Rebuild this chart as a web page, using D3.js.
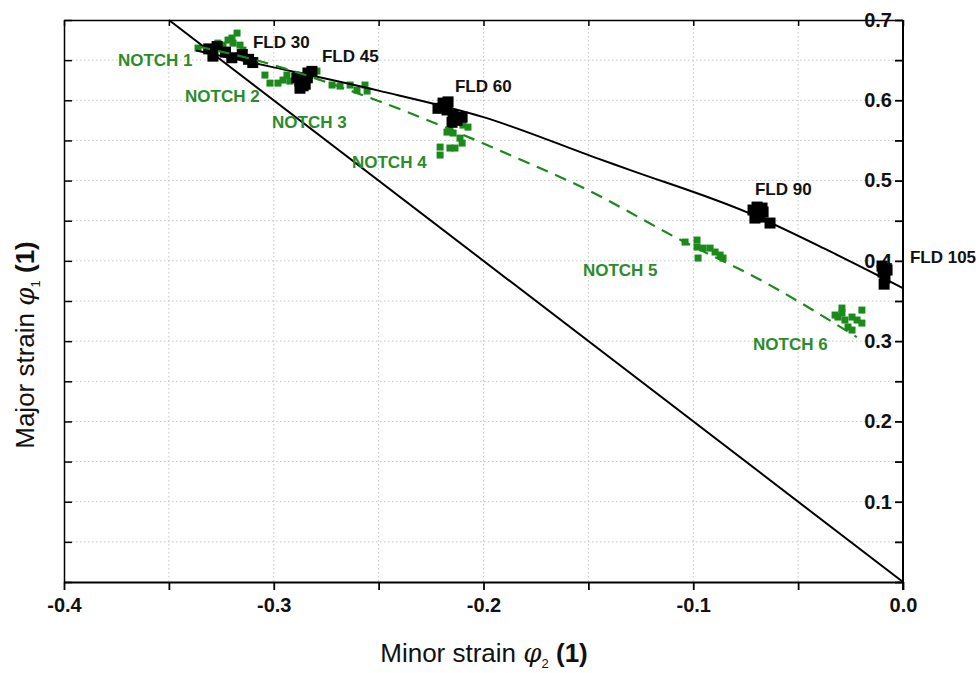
<!DOCTYPE html>
<html>
<head>
<meta charset="utf-8">
<script src="https://cdn.jsdelivr.net/npm/d3@7"></script>
<style>
  html, body { margin: 0; padding: 0; background: #fff; }
  svg { display: block; font-family: "Liberation Sans", Arial, sans-serif; }
</style>
</head>
<body>
<svg id="chart" width="979" height="673"></svg>
<script>
// ---------------- DATA ----------------
const xTickLabels = [-0.4, -0.3, -0.2, -0.1, 0.0];
const yTickLabels = [0.1, 0.2, 0.3, 0.4, 0.5, 0.6, 0.7];
const gridX = [-0.35, -0.3, -0.25, -0.2, -0.15, -0.1, -0.05];
const gridY = [0.05, 0.1, 0.15, 0.2, 0.25, 0.3, 0.35, 0.4, 0.45, 0.5, 0.55, 0.6, 0.65];

// uniaxial tension line (phi1 = -2 phi2)
const tensionLineX = [-0.35, 0.0];
const tensionLineY = [0.70, 0.0];

// FLD fit curve
const fldCurveX = [-0.337, -0.30, -0.25, -0.20, -0.145, -0.13, -0.074, -0.035, 0.0];
const fldCurveY = [0.662, 0.641, 0.612, 0.579, 0.527, 0.513, 0.460, 0.412, 0.366];

// NOTCH fit curve (dashed)
const notchCurveX = [-0.336, -0.307, -0.251, -0.184, -0.1525, -0.106, -0.065, -0.022];
const notchCurveY = [0.667, 0.649, 0.600, 0.528, 0.491, 0.426, 0.372, 0.305];

// FLD measured points [minor, major]
const fld30 = [[-0.331,0.664],[-0.329,0.655],[-0.327,0.667],[-0.323,0.660],[-0.320,0.653],[-0.315,0.657],[-0.312,0.651],[-0.310,0.647]];
const fld45 = [[-0.289,0.628],[-0.2875,0.624],[-0.2875,0.615],[-0.286,0.618],[-0.284,0.628],[-0.2837,0.634],[-0.2818,0.636],[-0.285,0.620]];
const fld60 = [[-0.2217,0.590],[-0.2193,0.5965],[-0.2169,0.598],[-0.2174,0.588],[-0.2145,0.5816],[-0.2126,0.575],[-0.2102,0.579],[-0.2150,0.5726]];
const fld90 = [[-0.0715,0.4633],[-0.0696,0.467],[-0.0672,0.4658],[-0.0667,0.4608],[-0.0682,0.4545],[-0.0706,0.4533],[-0.0634,0.4471]];
const fld105 = [[-0.0100,0.3935],[-0.0095,0.386],[-0.0086,0.3786],[-0.0090,0.371],[-0.0076,0.3885]];

// NOTCH measured points
const notch1 = [[-0.3175,0.6837],[-0.3199,0.6775],[-0.3194,0.6712],[-0.3161,0.6687],[-0.3147,0.6625],[-0.3266,0.6712],[-0.3242,0.6687],[-0.3361,0.665],[-0.3218,0.675]];
const notch23 = [[-0.3042,0.6314],[-0.3018,0.6214],[-0.2980,0.6214],[-0.2956,0.6252],[-0.2937,0.6314],[-0.2923,0.6239],[-0.2889,0.6314],[-0.2794,0.6364],[-0.2722,0.619],[-0.2684,0.6177],[-0.2636,0.619],[-0.2603,0.6127],[-0.2565,0.619],[-0.2555,0.6115]];
const notch4 = [[-0.2174,0.5604],[-0.2160,0.5629],[-0.2145,0.5592],[-0.2098,0.5691],[-0.2074,0.5666],[-0.2112,0.5529],[-0.2102,0.5467],[-0.2207,0.5417],[-0.2207,0.5318],[-0.2160,0.5405],[-0.2136,0.5405]];
const notch5 = [[-0.1039,0.4234],[-0.0982,0.4259],[-0.0982,0.4172],[-0.0977,0.4035],[-0.0953,0.4159],[-0.0920,0.4159],[-0.0896,0.411],[-0.0872,0.4072],[-0.0858,0.4035]];
const notch6 = [[-0.0291,0.3412],[-0.0310,0.330],[-0.0291,0.335],[-0.0277,0.3263],[-0.0243,0.330],[-0.0219,0.3263],[-0.0196,0.3387],[-0.0196,0.3225],[-0.0262,0.3176],[-0.0243,0.3138],[-0.0324,0.3325]];

// annotation labels (text, anchor in data units)
const fldLabels = ["FLD 30", "FLD 45", "FLD 60", "FLD 90", "FLD 105"];
const fldLabelX = [-0.3099, -0.277, -0.2136, -0.0706, 0.0033];
const fldLabelY = [0.665, 0.6476, 0.610, 0.482, 0.397];
const notchLabels = ["NOTCH 1", "NOTCH 2", "NOTCH 3", "NOTCH 4", "NOTCH 5", "NOTCH 6"];
const notchLabelX = [-0.3743, -0.3423, -0.3008, -0.2627, -0.1526, -0.0715];
const notchLabelY = [0.6426, 0.5978, 0.5654, 0.5156, 0.381, 0.2889];

// ---------------- DRAW ----------------
const svg = d3.select("#chart");
const L = 64, R = 903, T = 20, B = 582;
const x = d3.scaleLinear().domain([-0.4, 0]).range([L, R]);
const y = d3.scaleLinear().domain([0, 0.7]).range([B, T]);
const GREEN = "#1a8a1a";
const GREEN_TXT = "#2b8c2b";
const allTicks = d3.range(0, 15).map(i => +(i * 0.05).toFixed(2));
const allXTicks = d3.range(0, 9).map(i => +(-0.4 + i * 0.05).toFixed(2));

// grid
const grid = svg.append("g").attr("stroke", "#c4c4c4").attr("stroke-width", 1).attr("stroke-dasharray", "1.5,2.5");
grid.selectAll("line.gx").data(gridX).join("line")
  .attr("x1", d => x(d)).attr("x2", d => x(d)).attr("y1", T).attr("y2", B);
grid.selectAll("line.gy").data(gridY).join("line")
  .attr("y1", d => y(d)).attr("y2", d => y(d)).attr("x1", L).attr("x2", R);

// frame: top and left borders with inward ticks
svg.append("g").attr("transform", `translate(0,${T})`)
  .call(d3.axisBottom(x).tickValues(allXTicks).tickSize(6).tickSizeOuter(0).tickFormat(""))
  .call(g => g.select(".domain").attr("stroke-width", 1.5))
  .call(g => g.selectAll(".tick line").attr("stroke-width", 1.5));
svg.append("g").attr("transform", `translate(${L},0)`)
  .call(d3.axisRight(y).tickValues(allTicks).tickSize(8).tickSizeOuter(0).tickFormat(""))
  .call(g => g.select(".domain").attr("stroke-width", 1.5))
  .call(g => g.selectAll(".tick line").attr("stroke-width", 1.5));

// bottom axis
const xAx = svg.append("g").attr("transform", `translate(0,${B})`);
xAx.call(d3.axisBottom(x).tickValues(allXTicks).tickSize(8).tickSizeOuter(0).tickPadding(6)
    .tickFormat(d => xTickLabels.some(v => Math.abs(v - d) < 1e-9) ? d.toFixed(1) : ""))
  .call(g => g.select(".domain").attr("stroke-width", 2))
  .call(g => g.selectAll(".tick line").attr("stroke-width", 1.8))
  .call(g => g.selectAll(".tick text").attr("font-size", 20).attr("font-weight", "bold")
      .attr("fill", "#111").attr("font-family", "Liberation Sans, Arial").attr("dy", "0.78em"));

// right axis (at phi2 = 0) with inward ticks, labels on the left
const yAx = svg.append("g").attr("transform", `translate(${R},0)`);
yAx.call(d3.axisLeft(y).tickValues(allTicks).tickSize(8).tickSizeOuter(0).tickPadding(3)
    .tickFormat(d => yTickLabels.some(v => Math.abs(v - d) < 1e-9) ? d.toFixed(1) : ""))
  .call(g => g.select(".domain").attr("stroke-width", 2).attr("d", `M0,${T}V${B + 8}`))
  .call(g => g.selectAll(".tick line").attr("stroke-width", 1.8))
  .call(g => g.selectAll(".tick text").attr("font-size", 20).attr("font-weight", "bold")
      .attr("fill", "#111").attr("font-family", "Liberation Sans, Arial"));

// markers
function squares(data, size, color) {
  svg.append("g").selectAll("rect").data(data).join("rect")
    .attr("x", d => x(d[0]) - size / 2).attr("y", d => y(d[1]) - size / 2)
    .attr("width", size).attr("height", size).attr("fill", color);
}
[notch1, notch23, notch4, notch5, notch6].forEach(s => squares(s, 7, GREEN));
[fld30, fld45, fld60, fld90, fld105].forEach(s => squares(s, 11, "#000"));

// lines
const line = d3.line().x(d => x(d[0])).y(d => y(d[1]));
svg.append("path").datum(tensionLineX.map((v, i) => [v, tensionLineY[i]]))
  .attr("d", line).attr("fill", "none").attr("stroke", "#000").attr("stroke-width", 2);
svg.append("path").datum(fldCurveX.map((v, i) => [v, fldCurveY[i]]))
  .attr("d", line.curve(d3.curveMonotoneX)).attr("fill", "none").attr("stroke", "#000").attr("stroke-width", 2);
svg.append("path").datum(notchCurveX.map((v, i) => [v, notchCurveY[i]]))
  .attr("d", d3.line().x(d => x(d[0])).y(d => y(d[1])).curve(d3.curveMonotoneX))
  .attr("fill", "none").attr("stroke", GREEN).attr("stroke-width", 2.2).attr("stroke-dasharray", "12,8");

// labels
svg.append("g").selectAll("text").data(fldLabels).join("text")
  .attr("x", (d, i) => x(fldLabelX[i])).attr("y", (d, i) => y(fldLabelY[i]))
  .attr("font-size", 17).attr("font-weight", "bold").attr("fill", "#111").text(d => d);
svg.append("g").selectAll("text").data(notchLabels).join("text")
  .attr("x", (d, i) => x(notchLabelX[i])).attr("y", (d, i) => y(notchLabelY[i]))
  .attr("font-size", 17).attr("font-weight", "bold").attr("fill", GREEN_TXT).text(d => d);

// axis titles
const xt = svg.append("text").attr("x", 484).attr("y", 662).attr("text-anchor", "middle")
  .attr("font-size", 26).attr("fill", "#111");
xt.append("tspan").text("Minor strain ");
xt.append("tspan").attr("font-style", "italic").attr("font-family", "DejaVu Serif, serif").text("φ");
xt.append("tspan").attr("font-size", 13).attr("dy", 6).text("2");
xt.append("tspan").attr("dy", -6).text(" ");
xt.append("tspan").attr("font-weight", "bold").text("(1)");

const yt = svg.append("text").attr("transform", "translate(34,345) rotate(-90)").attr("text-anchor", "middle")
  .attr("font-size", 26).attr("fill", "#111");
yt.append("tspan").text("Major strain ");
yt.append("tspan").attr("font-style", "italic").attr("font-family", "DejaVu Serif, serif").text("φ");
yt.append("tspan").attr("font-size", 13).attr("dy", 6).text("1");
yt.append("tspan").attr("dy", -6).text(" ");
yt.append("tspan").attr("font-weight", "bold").text("(1)");
</script>
</body>
</html>
